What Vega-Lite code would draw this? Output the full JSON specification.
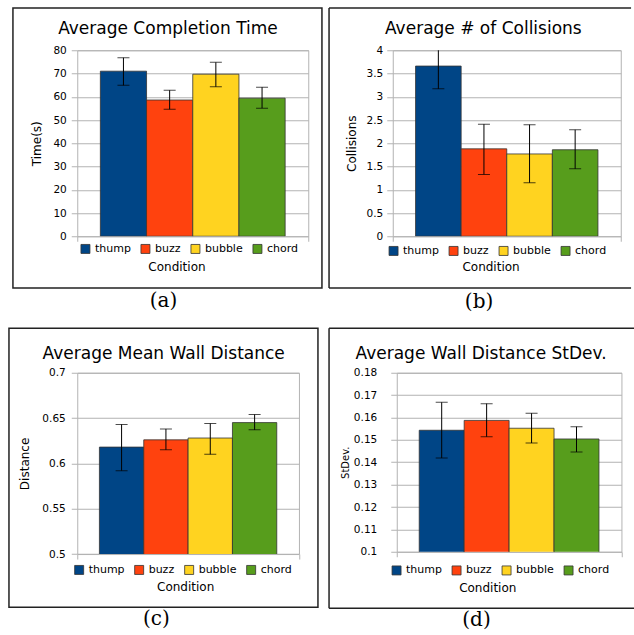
{
  "$schema": "https://vega.github.io/schema/vega-lite/v6.json",
  "background": "white",
  "padding": {"left": 7.25, "top": 6.25, "right": 0, "bottom": 0},
  "columns": 2,
  "align": "none",
  "spacing": {"row": 13.5, "column": 4.5},
  "resolve": {"scale": {"color": "independent"}},
  "config": {
    "font": "DejaVu Sans",
    "view": {"stroke": "#b3b3b3", "strokeWidth": 1},
    "axis": {"labelFont": "DejaVu Sans", "labelFontSize": 10.5, "labelColor": "#000", "labelOverlap": false, "titleFont": "DejaVu Sans", "titleFontSize": 12, "titleFontWeight": "normal", "titleColor": "#000", "gridColor": "#b3b3b3", "gridOpacity": 1, "tickColor": "#b3b3b3", "tickSize": 6, "domain": false},
    "legend": {"direction": "horizontal", "title": null, "symbolType": "square", "symbolSize": 81, "symbolStrokeColor": "#333", "symbolStrokeWidth": 0.8, "labelFont": "DejaVu Sans", "labelFontSize": 11, "labelColor": "#000", "columnPadding": 8, "labelOffset": 4},
    "title": {"font": "DejaVu Sans", "fontSize": 17, "fontWeight": "normal", "color": "#000", "frame": "group"}
  },
  "concat": [
    {
      "width": 231, "height": 186,
      "title": {"text": "Average Completion Time", "offset": -31, "dx": -24.8},
      "resolve": {"scale": {"x": "independent", "y": "independent"}},
      "layer": [
        {
          "data": {"values": [{"caption": "(a)"}]},
          "layer": [
            {"mark": {"type": "rect", "filled": false, "stroke": "#222", "strokeWidth": 1.5},
             "encoding": {
               "x": {"datum": -0.2784, "type": "quantitative", "scale": {"domain": [0, 1], "nice": false, "zero": false}, "axis": {"values": [0, 1], "labels": false, "grid": false, "ticks": true, "tickSize": 5, "title": "Condition", "titlePadding": 20, "titleX": 99.2}},
               "x2": {"datum": 1.0593},
               "y": {"datum": -0.278, "type": "quantitative", "scale": {"domain": [0, 1], "nice": false, "zero": false}, "axis": null},
               "y2": {"datum": 1.2274}
             }},
            {"mark": {"type": "text", "font": "DejaVu Serif", "fontSize": 20, "baseline": "middle", "align": "center"},
             "encoding": {"x": {"datum": 0.3732, "type": "quantitative"}, "y": {"datum": -0.348, "type": "quantitative"}, "text": {"field": "caption"}}}
          ]
        },
        {
          "data": {"values": [
            {"condition": "thump", "value": 71.0, "lo": 64.9, "hi": 76.8},
            {"condition": "buzz", "value": 58.6, "lo": 54.6, "hi": 62.8},
            {"condition": "bubble", "value": 69.7, "lo": 64.3, "hi": 74.8},
            {"condition": "chord", "value": 59.4, "lo": 55.1, "hi": 64.1}
          ]},
          "encoding": {
            "x": {"field": "condition", "type": "nominal", "sort": ["thump", "buzz", "bubble", "chord"], "scale": {"paddingInner": 0, "paddingOuter": 0.5}, "axis": null}
          },
          "layer": [
            {"mark": {"type": "bar", "stroke": "#333", "strokeWidth": 0.8, "clip": true},
             "encoding": {
               "y": {"field": "value", "type": "quantitative", "scale": {"domain": [0, 80], "nice": false, "zero": false}, "axis": {"orient": "left", "grid": true, "values": [0, 10, 20, 30, 40, 50, 60, 70, 80], "format": "~r", "title": "Time(s)", "titlePadding": 9, "labelPadding": 5}},
               "color": {"field": "condition", "type": "nominal", "scale": {"domain": ["thump", "buzz", "bubble", "chord"], "range": ["#004586", "#ff420e", "#ffd320", "#579d1c"]}, "legend": {"orient": "none", "legendX": 2.7, "legendY": 193}}
             }},
            {"mark": {"type": "rule", "color": "#000", "strokeWidth": 1, "clip": true},
             "encoding": {"y": {"field": "lo", "type": "quantitative", "axis": {"orient": "left", "grid": true, "values": [0, 10, 20, 30, 40, 50, 60, 70, 80], "format": "~r", "title": "Time(s)", "titlePadding": 9, "labelPadding": 5}}, "y2": {"field": "hi"}}},
            {"mark": {"type": "tick", "color": "#000", "size": 12, "thickness": 1, "orient": "horizontal", "clip": true},
             "encoding": {"y": {"field": "lo", "type": "quantitative", "axis": {"orient": "left", "grid": true, "values": [0, 10, 20, 30, 40, 50, 60, 70, 80], "format": "~r", "title": "Time(s)", "titlePadding": 9, "labelPadding": 5}}}},
            {"mark": {"type": "tick", "color": "#000", "size": 12, "thickness": 1, "orient": "horizontal", "clip": true},
             "encoding": {"y": {"field": "hi", "type": "quantitative", "axis": {"orient": "left", "grid": true, "values": [0, 10, 20, 30, 40, 50, 60, 70, 80], "format": "~r", "title": "Time(s)", "titlePadding": 9, "labelPadding": 5}}}}
          ]
        }
      ]
    },
    {
      "width": 228, "height": 186,
      "title": {"text": "Average # of Collisions", "offset": -31, "dx": -23.4},
      "resolve": {"scale": {"x": "independent", "y": "independent"}},
      "layer": [
        {
          "data": {"values": [{"caption": "(b)"}]},
          "layer": [
            {"mark": {"type": "rule", "stroke": "#222", "strokeWidth": 1.5},
             "encoding": {
               "x": {"datum": -0.2794, "type": "quantitative", "scale": {"domain": [0, 1], "nice": false, "zero": false}, "axis": {"values": [0, 1], "labels": false, "grid": false, "ticks": true, "tickSize": 5, "title": "Condition", "titlePadding": 20, "titleX": 97.8}},
               "x2": {"datum": 1.0452},
               "y": {"datum": 1.2274, "type": "quantitative", "scale": {"domain": [0, 1], "nice": false, "zero": false}, "axis": null}
             }},
            {"mark": {"type": "rule", "stroke": "#222", "strokeWidth": 1.5},
             "encoding": {
               "x": {"datum": -0.2794, "type": "quantitative"},
               "x2": {"datum": 1.0452},
               "y": {"datum": -0.278, "type": "quantitative"}
             }},
            {"mark": {"type": "rule", "stroke": "#222", "strokeWidth": 1.5},
             "encoding": {
               "x": {"datum": -0.2794, "type": "quantitative"},
               "y": {"datum": -0.278, "type": "quantitative"},
               "y2": {"datum": 1.2274}
             }},
            {"mark": {"type": "text", "font": "DejaVu Serif", "fontSize": 20, "baseline": "middle", "align": "center"},
             "encoding": {"x": {"datum": 0.3785, "type": "quantitative"}, "y": {"datum": -0.356, "type": "quantitative"}, "text": {"field": "caption"}}}
          ]
        },
        {
          "data": {"values": [
            {"condition": "thump", "value": 3.66, "lo": 3.17, "hi": 4.15},
            {"condition": "buzz", "value": 1.88, "lo": 1.33, "hi": 2.41},
            {"condition": "bubble", "value": 1.77, "lo": 1.15, "hi": 2.40},
            {"condition": "chord", "value": 1.86, "lo": 1.45, "hi": 2.29}
          ]},
          "encoding": {
            "x": {"field": "condition", "type": "nominal", "sort": ["thump", "buzz", "bubble", "chord"], "scale": {"paddingInner": 0, "paddingOuter": 0.5}, "axis": null}
          },
          "layer": [
            {"mark": {"type": "bar", "stroke": "#333", "strokeWidth": 0.8, "clip": true},
             "encoding": {
               "y": {"field": "value", "type": "quantitative", "scale": {"domain": [0, 4], "nice": false, "zero": false}, "axis": {"orient": "left", "grid": true, "values": [0, 0.5, 1, 1.5, 2, 2.5, 3, 3.5, 4], "format": "~r", "title": "Collisions", "titlePadding": 8, "labelPadding": 4}},
               "color": {"field": "condition", "type": "nominal", "scale": {"domain": ["thump", "buzz", "bubble", "chord"], "range": ["#004586", "#ff420e", "#ffd320", "#579d1c"]}, "legend": {"orient": "none", "legendX": -4.7, "legendY": 195}}
             }},
            {"mark": {"type": "rule", "color": "#000", "strokeWidth": 1, "clip": true},
             "encoding": {"y": {"field": "lo", "type": "quantitative", "axis": {"orient": "left", "grid": true, "values": [0, 0.5, 1, 1.5, 2, 2.5, 3, 3.5, 4], "format": "~r", "title": "Collisions", "titlePadding": 8, "labelPadding": 4}}, "y2": {"field": "hi"}}},
            {"mark": {"type": "tick", "color": "#000", "size": 12, "thickness": 1, "orient": "horizontal", "clip": true},
             "encoding": {"y": {"field": "lo", "type": "quantitative", "axis": {"orient": "left", "grid": true, "values": [0, 0.5, 1, 1.5, 2, 2.5, 3, 3.5, 4], "format": "~r", "title": "Collisions", "titlePadding": 8, "labelPadding": 4}}}},
            {"mark": {"type": "tick", "color": "#000", "size": 12, "thickness": 1, "orient": "horizontal", "clip": true},
             "encoding": {"y": {"field": "hi", "type": "quantitative", "axis": {"orient": "left", "grid": true, "values": [0, 0.5, 1, 1.5, 2, 2.5, 3, 3.5, 4], "format": "~r", "title": "Collisions", "titlePadding": 8, "labelPadding": 4}}}}
          ]
        }
      ]
    },
    {
      "width": 221.7, "height": 181.3,
      "title": {"text": "Average Mean Wall Distance", "offset": -35, "dx": -24.4},
      "resolve": {"scale": {"x": "independent", "y": "independent"}},
      "layer": [
        {
          "data": {"values": [{"caption": "(c)"}]},
          "layer": [
            {"mark": {"type": "rect", "filled": false, "stroke": "#222", "strokeWidth": 1.5},
             "encoding": {
               "x": {"datum": -0.308, "type": "quantitative", "scale": {"domain": [0, 1], "nice": false, "zero": false}, "axis": {"values": [0, 1], "labels": false, "grid": false, "ticks": true, "tickSize": 5, "title": "Condition", "titlePadding": 21.8, "titleX": 107.9}},
               "x2": {"datum": 1.0857},
               "y": {"datum": -0.294, "type": "quantitative", "scale": {"domain": [0, 1], "nice": false, "zero": false}, "axis": null},
               "y2": {"datum": 1.2449}
             }},
            {"mark": {"type": "text", "font": "DejaVu Serif", "fontSize": 20, "baseline": "middle", "align": "center"},
             "encoding": {"x": {"datum": 0.3572, "type": "quantitative"}, "y": {"datum": -0.36, "type": "quantitative"}, "text": {"field": "caption"}}}
          ]
        },
        {
          "data": {"values": [
            {"condition": "thump", "value": 0.618, "lo": 0.592, "hi": 0.643},
            {"condition": "buzz", "value": 0.626, "lo": 0.615, "hi": 0.638},
            {"condition": "bubble", "value": 0.628, "lo": 0.610, "hi": 0.644},
            {"condition": "chord", "value": 0.645, "lo": 0.637, "hi": 0.654}
          ]},
          "encoding": {
            "x": {"field": "condition", "type": "nominal", "sort": ["thump", "buzz", "bubble", "chord"], "scale": {"paddingInner": 0, "paddingOuter": 0.5}, "axis": null}
          },
          "layer": [
            {"mark": {"type": "bar", "stroke": "#333", "strokeWidth": 0.8, "clip": true},
             "encoding": {
               "y": {"field": "value", "type": "quantitative", "scale": {"domain": [0.5, 0.7], "nice": false, "zero": false}, "axis": {"orient": "left", "grid": true, "values": [0.5, 0.55, 0.6, 0.65, 0.7], "format": "~r", "title": "Distance", "titlePadding": 10, "labelPadding": 6}},
               "color": {"field": "condition", "type": "nominal", "scale": {"domain": ["thump", "buzz", "bubble", "chord"], "range": ["#004586", "#ff420e", "#ffd320", "#579d1c"]}, "legend": {"orient": "none", "legendX": -3.6, "legendY": 191.5}}
             }},
            {"mark": {"type": "rule", "color": "#000", "strokeWidth": 1, "clip": true},
             "encoding": {"y": {"field": "lo", "type": "quantitative", "axis": {"orient": "left", "grid": true, "values": [0.5, 0.55, 0.6, 0.65, 0.7], "format": "~r", "title": "Distance", "titlePadding": 10, "labelPadding": 6}}, "y2": {"field": "hi"}}},
            {"mark": {"type": "tick", "color": "#000", "size": 12, "thickness": 1, "orient": "horizontal", "clip": true},
             "encoding": {"y": {"field": "lo", "type": "quantitative", "axis": {"orient": "left", "grid": true, "values": [0.5, 0.55, 0.6, 0.65, 0.7], "format": "~r", "title": "Distance", "titlePadding": 10, "labelPadding": 6}}}},
            {"mark": {"type": "tick", "color": "#000", "size": 12, "thickness": 1, "orient": "horizontal", "clip": true},
             "encoding": {"y": {"field": "hi", "type": "quantitative", "axis": {"orient": "left", "grid": true, "values": [0.5, 0.55, 0.6, 0.65, 0.7], "format": "~r", "title": "Distance", "titlePadding": 10, "labelPadding": 6}}}}
          ]
        }
      ]
    },
    {
      "width": 224.7, "height": 179,
      "title": {"text": "Average Wall Distance StDev.", "offset": -35, "dx": -28},
      "resolve": {"scale": {"x": "independent", "y": "independent"}},
      "layer": [
        {
          "data": {"values": [{"caption": "(d)"}]},
          "layer": [
            {"mark": {"type": "rule", "stroke": "#222", "strokeWidth": 1.5},
             "encoding": {
               "x": {"datum": -0.3013, "type": "quantitative", "scale": {"domain": [0, 1], "nice": false, "zero": false}, "axis": {"values": [0, 1], "labels": false, "grid": false, "ticks": true, "tickSize": 5, "title": "Condition", "titlePadding": 25.4, "titleX": 90.5}},
               "x2": {"datum": 1.0605},
               "y": {"datum": 1.248, "type": "quantitative", "scale": {"domain": [0, 1], "nice": false, "zero": false}, "axis": null}
             }},
            {"mark": {"type": "rule", "stroke": "#222", "strokeWidth": 1.5},
             "encoding": {
               "x": {"datum": -0.3013, "type": "quantitative"},
               "x2": {"datum": 1.0605},
               "y": {"datum": -0.316, "type": "quantitative"}
             }},
            {"mark": {"type": "rule", "stroke": "#222", "strokeWidth": 1.5},
             "encoding": {
               "x": {"datum": -0.3013, "type": "quantitative"},
               "y": {"datum": -0.316, "type": "quantitative"},
               "y2": {"datum": 1.248}
             }},
            {"mark": {"type": "text", "font": "DejaVu Serif", "fontSize": 20, "baseline": "middle", "align": "center"},
             "encoding": {"x": {"datum": 0.355, "type": "quantitative"}, "y": {"datum": -0.383, "type": "quantitative"}, "text": {"field": "caption"}}}
          ]
        },
        {
          "data": {"values": [
            {"condition": "thump", "value": 0.1543, "lo": 0.1419, "hi": 0.1668},
            {"condition": "buzz", "value": 0.1587, "lo": 0.1514, "hi": 0.1662},
            {"condition": "bubble", "value": 0.1552, "lo": 0.1486, "hi": 0.1619},
            {"condition": "chord", "value": 0.1504, "lo": 0.1446, "hi": 0.1559}
          ]},
          "encoding": {
            "x": {"field": "condition", "type": "nominal", "sort": ["thump", "buzz", "bubble", "chord"], "scale": {"paddingInner": 0, "paddingOuter": 0.5}, "axis": null}
          },
          "layer": [
            {"mark": {"type": "bar", "stroke": "#333", "strokeWidth": 0.8, "clip": true},
             "encoding": {
               "y": {"field": "value", "type": "quantitative", "scale": {"domain": [0.1, 0.18], "nice": false, "zero": false}, "axis": {"orient": "left", "grid": true, "values": [0.1, 0.11, 0.12, 0.13, 0.14, 0.15, 0.16, 0.17, 0.18], "format": "~r", "title": "StDev.", "titleFontSize": 10, "titlePadding": 3, "labelPadding": 14}},
               "color": {"field": "condition", "type": "nominal", "scale": {"domain": ["thump", "buzz", "bubble", "chord"], "range": ["#004586", "#ff420e", "#ffd320", "#579d1c"]}, "legend": {"orient": "none", "legendX": -5.7, "legendY": 192}}
             }},
            {"mark": {"type": "rule", "color": "#000", "strokeWidth": 1, "clip": true},
             "encoding": {"y": {"field": "lo", "type": "quantitative", "axis": {"orient": "left", "grid": true, "values": [0.1, 0.11, 0.12, 0.13, 0.14, 0.15, 0.16, 0.17, 0.18], "format": "~r", "title": "StDev.", "titleFontSize": 10, "titlePadding": 3, "labelPadding": 14}}, "y2": {"field": "hi"}}},
            {"mark": {"type": "tick", "color": "#000", "size": 12, "thickness": 1, "orient": "horizontal", "clip": true},
             "encoding": {"y": {"field": "lo", "type": "quantitative", "axis": {"orient": "left", "grid": true, "values": [0.1, 0.11, 0.12, 0.13, 0.14, 0.15, 0.16, 0.17, 0.18], "format": "~r", "title": "StDev.", "titleFontSize": 10, "titlePadding": 3, "labelPadding": 14}}}},
            {"mark": {"type": "tick", "color": "#000", "size": 12, "thickness": 1, "orient": "horizontal", "clip": true},
             "encoding": {"y": {"field": "hi", "type": "quantitative", "axis": {"orient": "left", "grid": true, "values": [0.1, 0.11, 0.12, 0.13, 0.14, 0.15, 0.16, 0.17, 0.18], "format": "~r", "title": "StDev.", "titleFontSize": 10, "titlePadding": 3, "labelPadding": 14}}}}
          ]
        }
      ]
    }
  ]
}
